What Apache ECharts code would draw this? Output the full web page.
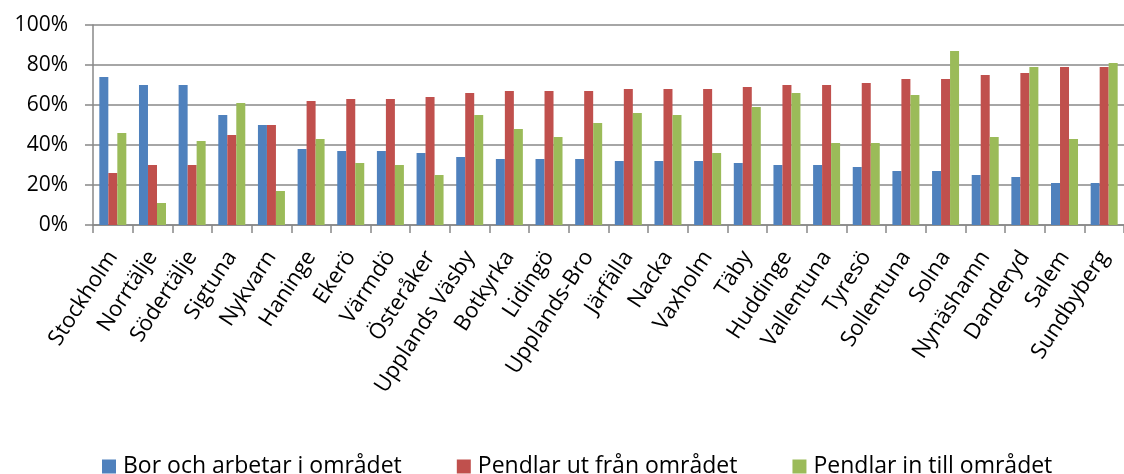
<!DOCTYPE html>
<html>
<head>
<meta charset="utf-8">
<script src="https://cdn.jsdelivr.net/npm/echarts@6/dist/echarts.min.js"></script>
<style>
  html, body { margin: 0; padding: 0; background: #fff; }
  #main { width: 1124px; height: 474px; }
</style>
</head>
<body>
<div id="main"></div>
<script>
// kommuner, i ordning
var categories = ['Stockholm', 'Norrtälje', 'Södertälje', 'Sigtuna', 'Nykvarn', 'Haninge', 'Ekerö',
  'Värmdö', 'Österåker', 'Upplands Väsby', 'Botkyrka', 'Lidingö', 'Upplands-Bro', 'Järfälla',
  'Nacka', 'Vaxholm', 'Täby', 'Huddinge', 'Vallentuna', 'Tyresö', 'Sollentuna', 'Solna',
  'Nynäshamn', 'Danderyd', 'Salem', 'Sundbyberg'];

var borOchArbetar = [74, 70, 70, 55, 50, 38, 37, 37, 36, 34, 33, 33, 33, 32, 32, 32, 31, 30, 30, 29, 27, 27, 25, 24, 21, 21];
var pendlarUt = [26, 30, 30, 45, 50, 62, 63, 63, 64, 66, 67, 67, 67, 68, 68, 68, 69, 70, 70, 71, 73, 73, 75, 76, 79, 79];
var pendlarIn = [46, 11, 42, 61, 17, 43, 31, 30, 25, 55, 48, 44, 51, 56, 55, 36, 59, 66, 41, 41, 65, 87, 44, 79, 43, 81];

var seriesNames = ['Bor och arbetar i området', 'Pendlar ut från området', 'Pendlar in till området'];
var yTicks = [0, 20, 40, 60, 80, 100];

var FONT = 'Open Sans';
var gridGrey = '#888888';

var chart = echarts.init(document.getElementById('main'));

function bar(name, data, color) {
  return {
    name: name,
    type: 'bar',
    data: data,
    barWidth: 9,
    barGap: '0%',
    itemStyle: { color: color },
    emphasis: { disabled: true }
  };
}

var option = {
  animation: false,
  textStyle: { fontFamily: FONT },
  legend: {
    left: 97,
    top: 450,
    itemWidth: 14,
    itemHeight: 14,
    itemGap: 55,
    icon: 'rect',
    textStyle: { fontSize: 23, color: '#000', fontFamily: FONT, padding: [0, 0, 0, 2] },
    data: seriesNames
  },
  grid: {
    left: 93,
    top: 25,
    width: 1040,
    height: 200
  },
  xAxis: {
    type: 'category',
    data: categories,
    axisLine: { lineStyle: { color: gridGrey, width: 1.5 } },
    axisTick: { show: true, length: 8, lineStyle: { color: gridGrey, width: 1.5 } },
    axisLabel: {
      rotate: 57,
      interval: 0,
      margin: 28,
      fontSize: 22,
      color: '#000',
      fontFamily: FONT
    }
  },
  yAxis: {
    type: 'value',
    min: yTicks[0],
    max: yTicks[yTicks.length - 1],
    interval: 20,
    axisLine: { show: true, lineStyle: { color: gridGrey, width: 1.5 } },
    axisTick: { show: true, length: 8, lineStyle: { color: gridGrey, width: 1.5 } },
    splitLine: { lineStyle: { color: gridGrey, width: 1.5 } },
    axisLabel: {
      formatter: '{value}%',
      fontSize: 21,
      color: '#000',
      margin: 25,
      fontFamily: FONT
    }
  },
  series: [
    bar(seriesNames[0], borOchArbetar, '#4f81bd'),
    bar(seriesNames[1], pendlarUt, '#c0504d'),
    bar(seriesNames[2], pendlarIn, '#9bbb59')
  ]
};

chart.setOption(option);
</script>
</body>
</html>
